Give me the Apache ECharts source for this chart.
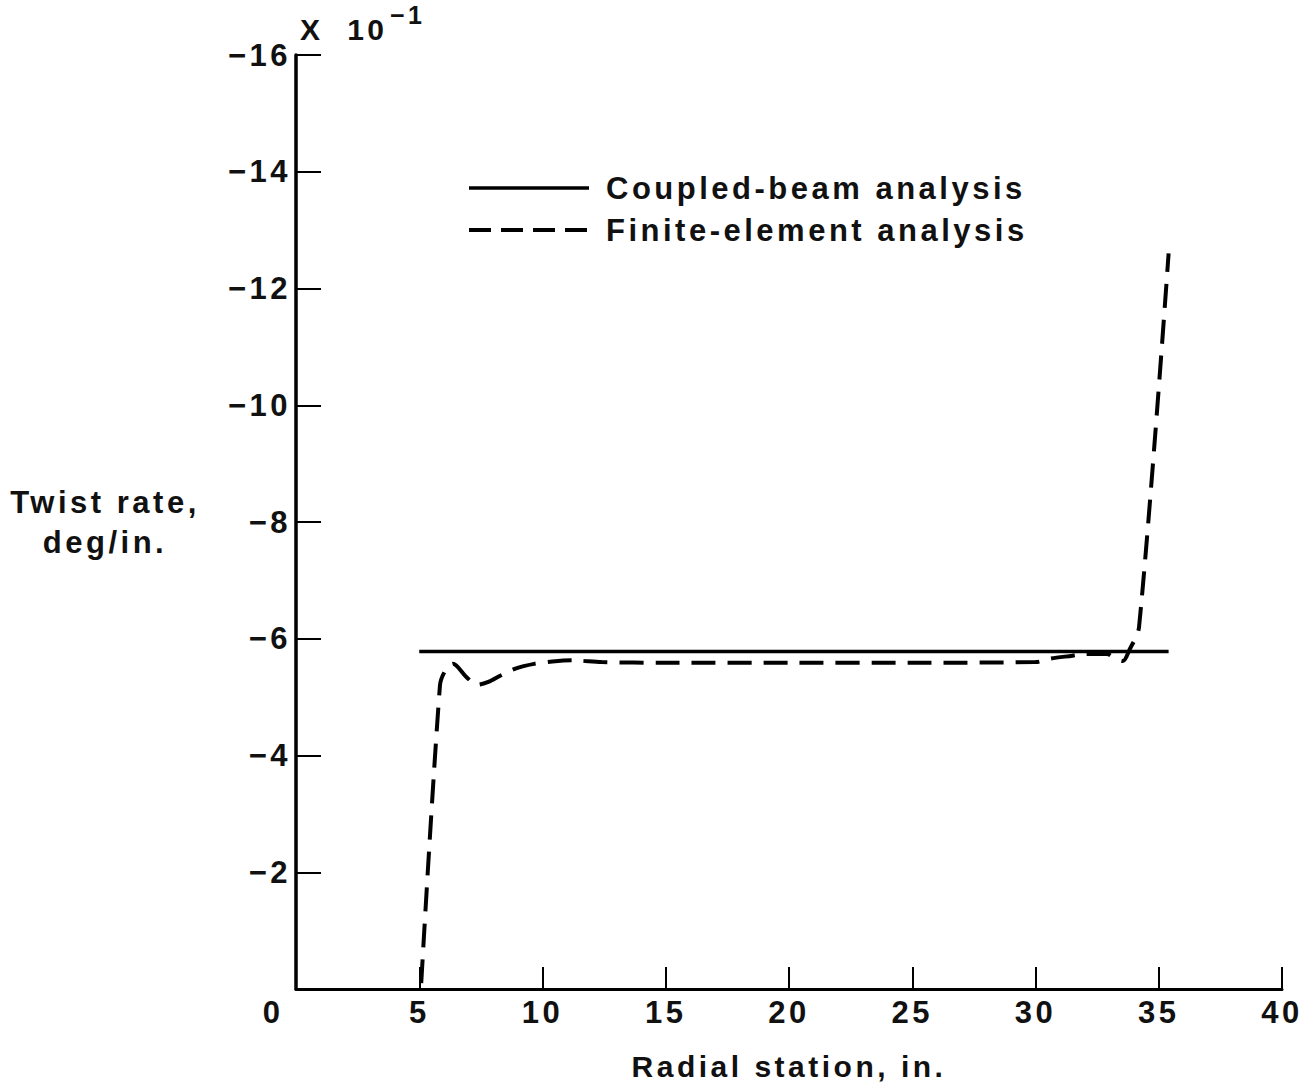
<!DOCTYPE html>
<html>
<head>
<meta charset="utf-8">
<script src="https://cdn.jsdelivr.net/npm/echarts@6/dist/echarts.min.js"></script>
<style>
  html, body { margin: 0; padding: 0; background: #fff; }
  #chart { width: 1310px; height: 1091px; }
  #chart svg text { letter-spacing: 3.5px; }
</style>
</head>
<body>
<div id="chart"></div>
<script>
// Radial station (in.) and twist rate (deg/in., x 10^-1)
const coupledX = [5.0, 35.4];
const coupledY = [-5.78, -5.78];

const feX = [5.08, 5.84, 6.05, 6.37, 6.9, 7.34, 7.8, 8.3, 8.9, 9.66, 10.4, 11.2, 12.4, 15, 20, 25, 30, 30.6, 31.5, 32.0, 32.9, 33.2, 33.55, 33.8, 34.2, 35.4];
const feY = [-0.1, -5.2, -5.45, -5.57, -5.35, -5.21, -5.26, -5.37, -5.49, -5.57, -5.61, -5.63, -5.6, -5.59, -5.59, -5.59, -5.6, -5.66, -5.71, -5.74, -5.74, -5.67, -5.62, -5.8, -6.2, -12.6];

const seriesNames = ['Coupled-beam analysis', 'Finite-element analysis'];
const xTitle = 'Radial station, in.';
const yTitle = 'Twist rate,\ndeg/in.';
const scaleNote = 'X  10';
const scaleExp = '\u22121';

const FONT = "'Liberation Sans', Arial, sans-serif";
const chart = echarts.init(document.getElementById('chart'), null, { renderer: 'svg' });

const zip = (xs, ys) => xs.map((x, i) => [x, ys[i]]);

chart.setOption({
  backgroundColor: '#ffffff',
  animation: false,
  textStyle: { fontFamily: FONT, color: '#111' },
  grid: { left: 296, right: 28, top: 55, bottom: 102, containLabel: false, outerBoundsMode: 'none' },
  legend: {
    orient: 'vertical',
    left: 462,
    top: 167,
    itemWidth: 120,
    itemHeight: 14,
    itemGap: 10,
    textStyle: { fontFamily: FONT, fontSize: 31, fontWeight: 'bold', color: '#111', lineHeight: 32, padding: [0, 0, 0, 12] },
    data: [
      { name: seriesNames[0], itemStyle: { opacity: 0 }, lineStyle: { width: 3.5, type: 'solid', color: '#000' } },
      { name: seriesNames[1], itemStyle: { opacity: 0 }, lineStyle: { width: 4, type: [22, 10], color: '#000' } }
    ]
  },
  xAxis: {
    type: 'value',
    min: 0, max: 40, interval: 5,
    name: xTitle,
    nameLocation: 'middle',
    nameGap: 62,
    nameTextStyle: { fontFamily: FONT, fontSize: 30, fontWeight: 'bold', color: '#111' },
    axisLine: { show: true, onZero: false, lineStyle: { color: '#000', width: 3 } },
    axisTick: { show: true, inside: true, length: 22, lineStyle: { color: '#000', width: 2 } },
    splitLine: { show: false },
    axisLabel: {
      margin: 8,
      fontFamily: FONT, fontSize: 31, fontWeight: 'bold', color: '#111',
      formatter: v => v === 0 ? '{z|0}' : String(v),
      rich: { z: { fontFamily: FONT, fontSize: 31, fontWeight: 'bold', color: '#111', padding: [0, 46, 0, 0] } }
    }
  },
  yAxis: {
    type: 'value',
    min: -16, max: 0, interval: 2,
    inverse: true,
    name: yTitle,
    nameLocation: 'middle',
    nameRotate: 0,
    nameGap: 191,
    nameTextStyle: { fontFamily: FONT, fontSize: 31, fontWeight: 'bold', color: '#111', align: 'center', lineHeight: 40 },
    axisLine: { show: true, onZero: false, lineStyle: { color: '#000', width: 3.5 } },
    axisTick: { show: true, inside: true, length: 25, lineStyle: { color: '#000', width: 2 } },
    splitLine: { show: false },
    axisLabel: {
      margin: 5,
      fontFamily: FONT, fontSize: 31, fontWeight: 'bold', color: '#111',
      formatter: v => v === 0 ? '' : '\u2212' + Math.abs(v)
    }
  },
  graphic: [
    { type: 'text', left: 300, top: 14, style: { text: scaleNote, fontFamily: FONT, fontSize: 30, fontWeight: 'bold', fill: '#111' } },
    { type: 'text', left: 390, top: 2, style: { text: scaleExp, fontFamily: FONT, fontSize: 25, fontWeight: 'bold', fill: '#111' } }
  ],
  series: [
    {
      name: seriesNames[0],
      type: 'line',
      data: zip(coupledX, coupledY),
      showSymbol: false,
      symbol: 'none',
      lineStyle: { color: '#000', width: 3.5, type: 'solid' },
      itemStyle: { color: '#000' }
    },
    {
      name: seriesNames[1],
      type: 'line',
      data: zip(feX, feY),
      showSymbol: false,
      symbol: 'none',
      smooth: 0.3,
      lineStyle: { color: '#000', width: 4, type: [24, 12] },
      itemStyle: { color: '#000' }
    }
  ]
});
</script>
</body>
</html>
